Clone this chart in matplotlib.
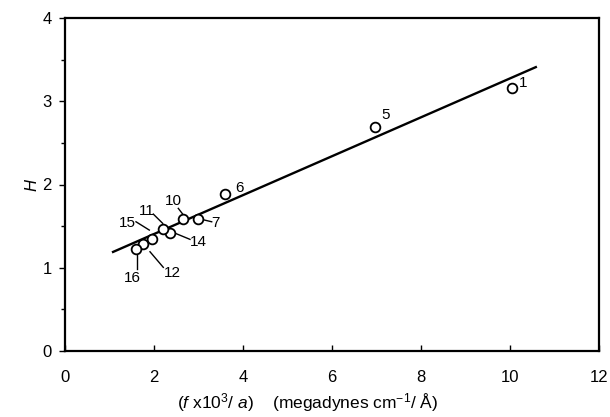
import matplotlib
matplotlib.use('Agg')
import matplotlib.pyplot as plt
from matplotlib.ticker import MultipleLocator

plt.rcParams['font.family'] = ['Liberation Sans', 'DejaVu Sans']
plt.rcParams['mathtext.fontset'] = 'custom'
plt.rcParams['mathtext.rm'] = 'Liberation Sans'
plt.rcParams['mathtext.it'] = 'Liberation Sans:italic'

# data
labels = ['1', '5', '6', '7', '10', '14', '11', '15', '12', '16']
x_vals = [10.04, 6.97, 3.60, 2.98, 2.66, 2.36, 2.21, 1.96, 1.76, 1.59]
y_vals = [3.16, 2.69, 1.89, 1.59, 1.59, 1.42, 1.46, 1.34, 1.28, 1.22]
fit_x = [1.08, 10.58]
fit_y = [1.19, 3.41]

# label placement in pixels: text centre, leader start, leader end (None = no leader)
lab_pos = {
    '1': ((523, 83), None),
    '5': ((386, 115), None),
    '6': ((239, 188), None),
    '7': ((215, 223), ((211.7, 221.7), (201.7, 219.3))),
    '10': ((173, 201), ((178.3, 208.3), (182.7, 214))),
    '11': ((147, 211), ((153.3, 214), (162.7, 223.3))),
    '15': ((127, 223), ((136, 221.7), (149.3, 230))),
    '14': ((198, 242), ((190, 239.3), (174, 232.7))),
    '12': ((172, 273), ((163.3, 267.3), (150, 251.7))),
    '16': ((132, 278), ((137.3, 269.3), (137.3, 255))),
}

def px(p):
    return ((p[0] - 65) / 44.5, (351 - p[1]) / 83.3)

fig = plt.figure(figsize=(6.1, 4.17), dpi=100)
ax = fig.add_axes([65/610, 66/417, 534/610, 333/417])

ax.plot(fit_x, fit_y, 'k-', lw=1.7)
ax.plot(x_vals, y_vals, 'o', mfc='white', mec='black', ms=7, mew=1.3, ls='none', zorder=3)

for lab in labels:
    txt, lead = lab_pos[lab]
    tx, ty = px(txt)
    ax.text(tx, ty, lab, ha='center', va='center', fontsize=11)
    if lead is not None:
        a, b = px(lead[0]), px(lead[1])
        ax.plot([a[0], b[0]], [a[1], b[1]], 'k-', lw=1.0)

ax.set_xlim(0, 12)
ax.set_ylim(0, 4)
ax.set_xticks(range(0, 13, 2))
ax.set_yticks(range(0, 5))
ax.yaxis.set_minor_locator(MultipleLocator(0.5))
ax.tick_params(axis='x', direction='in', length=4, width=1, labelsize=12, pad=14)
ax.tick_params(axis='y', direction='out', length=4.5, width=1, labelsize=12, pad=5)
ax.tick_params(axis='y', which='minor', direction='out', length=3, width=1)
for s in ax.spines.values():
    s.set_linewidth(1.6)

ax.set_xlabel(r'($\it{f}$ x10$^3$/ $\it{a}$)    (megadynes cm$^{-1}$/ Å)', fontsize=12.5)
ax.xaxis.set_label_coords((308 - 65) / 534, -0.12)
ax.set_ylabel('H', fontsize=12, style='italic', rotation=90)
ax.yaxis.set_label_coords(-0.048, (351 - 185) / 333)

fig.savefig('out.png', dpi=100)
